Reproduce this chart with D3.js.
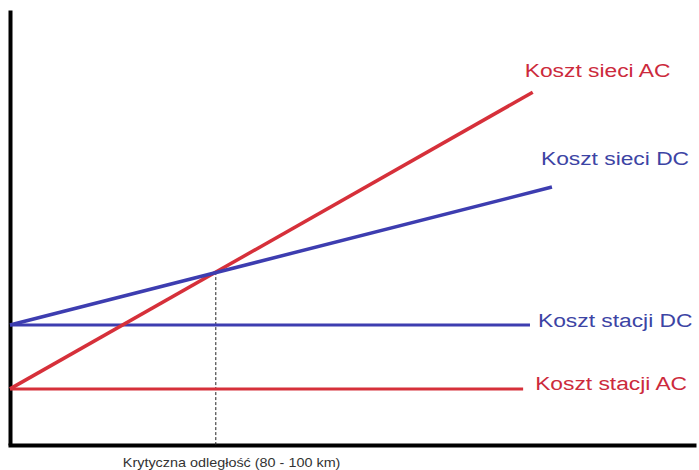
<!DOCTYPE html>
<html>
<head>
<meta charset="utf-8">
<script src="https://cdn.jsdelivr.net/npm/d3@7"></script>
<style>
    html, body { margin: 0; padding: 0; background: #fff; }
    svg { display: block; font-family: Arial, "Liberation Sans", sans-serif; }
</style>
</head>
<body>
<div id="chart"></div>
<script>
// line names, start cost at distance 0, end point (distance, cost)
const seriesNames = ['Koszt sieci AC', 'Koszt sieci DC', 'Koszt stacji DC', 'Koszt stacji AC'];
const startCost = [1.29, 2.76, 2.76, 1.29];
const endDistance = [7.62, 7.9, 7.58, 7.48];
const endCost = [8.11, 5.93, 2.76, 1.29];
const criticalDistance = 3;
const criticalLabel = 'Krytyczna odległość (80 - 100 km)';

const seriesColors = ['#d6303a', '#3d3db0', '#3d3db0', '#d6303a'];
const labelColors = ['#cc2a3c', '#3c44a4', '#3c44a4', '#cc2a3c'];
const lineWidths = [3.5, 3.5, 3, 3];
const labelOffsets = [[-8, -15], [-11, -22], [8, 2], [12, 1]];

const width = 699, height = 470;
const stretch = 1.2; // source picture is stretched horizontally

const x = d3.scaleLinear().domain([0, 10]).range([10, 696]);
const y = d3.scaleLinear().domain([0, 10]).range([445, 10]);

const svg = d3.select('#chart').append('svg')
    .attr('width', width)
    .attr('height', height);

// axes without ticks
svg.append('g')
    .attr('transform', `translate(${x(0)},0)`)
    .call(d3.axisLeft(y).tickValues([]).tickSizeOuter(0))
    .select('.domain').attr('stroke', '#000').attr('stroke-width', 4);

svg.append('g')
    .attr('transform', `translate(0,${y(0)})`)
    .call(d3.axisBottom(x.copy().range([8, 696])).tickValues([]).tickSizeOuter(0))
    .select('.domain').attr('stroke', '#000').attr('stroke-width', 4);

// critical point: where AC and DC network costs meet
const slopeAc = (endCost[0] - startCost[0]) / endDistance[0];
const critCost = startCost[0] + slopeAc * criticalDistance;

svg.append('line')
    .attr('x1', x(criticalDistance)).attr('x2', x(criticalDistance))
    .attr('y1', y(critCost)).attr('y2', y(0))
    .attr('stroke', '#222')
    .attr('stroke-width', 1)
    .attr('stroke-dasharray', '3,2');

const line = d3.line().x(d => x(d[0])).y(d => y(d[1]));

// draw the flat station lines first, networks on top
[3, 2, 0, 1].forEach(i => {
    svg.append('path')
        .attr('d', line([[0, startCost[i]], [endDistance[i], endCost[i]]]))
        .attr('fill', 'none')
        .attr('stroke', seriesColors[i])
        .attr('stroke-width', lineWidths[i]);
});

seriesNames.forEach((name, i) => {
    const lx = x(endDistance[i]) + labelOffsets[i][0];
    const ly = y(endCost[i]) + labelOffsets[i][1];
    svg.append('text')
        .attr('transform', `translate(${lx},${ly}) scale(${stretch},1)`)
        .attr('fill', labelColors[i])
        .attr('font-size', 19)
        .text(name);
});

svg.append('text')
    .attr('transform', `translate(${x(criticalDistance) - 93},${y(0) + 22}) scale(${stretch},1)`)
    .attr('fill', '#333')
    .attr('font-size', 12)
    .text(criticalLabel);
</script>
</body>
</html>
